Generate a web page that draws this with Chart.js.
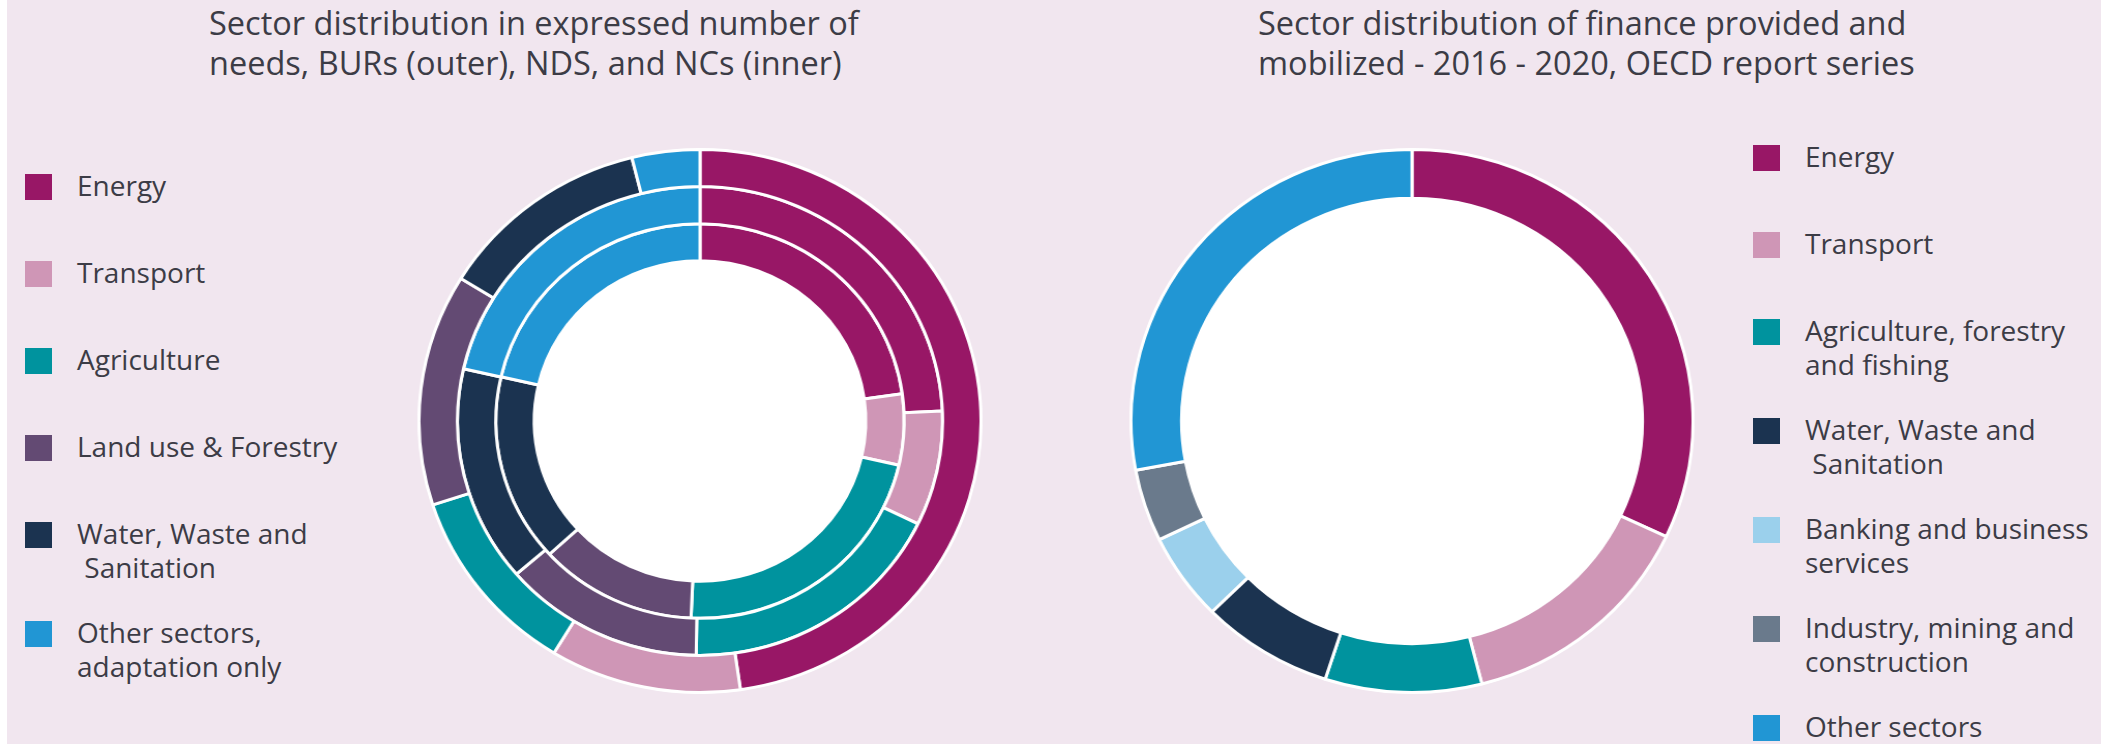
<!DOCTYPE html>
<html>
<head>
<meta charset="utf-8">
<script src="https://cdn.jsdelivr.net/npm/chart.js@4/dist/chart.umd.min.js"></script>
<style>
  html, body { margin: 0; padding: 0; background: #ffffff; }
  body { width: 2111px; height: 744px; position: relative; overflow: hidden; font-family: "Open Sans", sans-serif; color: #3c3c46; }
  .panel { position: absolute; left: 7px; top: 0; width: 2094px; height: 744px; background: #f1e6ef; }
  .title { position: absolute; top: 3px; font-size: 32.5px; line-height: 40px; white-space: nowrap; }
  .ring { position: absolute; width: 546px; height: 546px; transform: scaleX(1.035); transform-origin: 50% 50%; }
  .legend-item { position: absolute; font-size: 28px; line-height: 34px; white-space: pre; }
  .swatch { position: absolute; width: 27px; height: 26px; }
</style>
</head>
<body>
<div class="panel"></div>
<div class="title" style="left:209px">Sector distribution in expressed number of<br>needs, BURs (outer), NDS, and NCs (inner)</div>
<div class="title" style="left:1258px">Sector distribution of finance provided and<br>mobilized - 2016 - 2020, OECD report series</div>

<div class="ring" style="left:427px; top:148px"><canvas id="needs-chart" width="546" height="546"></canvas></div>
<div class="ring" style="left:1139px; top:148px"><canvas id="finance-chart" width="546" height="546"></canvas></div>
<div id="legend-needs"></div>
<div id="legend-finance"></div>

<script>
// ---- data (shares in %, clockwise from 12 o'clock) ----
const needsSectors = ['Energy', 'Transport', 'Agriculture', 'Land use & Forestry', 'Water, Waste and\n Sanitation', 'Other sectors,\nadaptation only'];
const needsColors  = ['#981766', '#cf96b6', '#00939e', '#634a73', '#1b3350', '#2196d4'];
const burValues = [47.7, 11.0, 11.3, 13.8, 12.3, 3.9];   // outer ring
const ndsValues = [24.3, 7.9, 18.0, 13.4, 14.9, 21.4];   // middle ring
const ncValues  = [22.8, 5.8, 22.1, 12.5, 15.4, 21.4];   // inner ring

const financeSectors = ['Energy', 'Transport', 'Agriculture, forestry\nand fishing', 'Water, Waste and\n Sanitation', 'Banking and business\nservices', 'Industry, mining and\nconstruction', 'Other sectors'];
const financeColors  = ['#981766', '#cf96b6', '#00939e', '#1b3350', '#9bd0ec', '#6a7a8c', '#2196d4'];
const financeValues  = [32.0, 14.0, 9.0, 7.6, 5.2, 4.3, 27.9];

// white disc behind the rings (hole + gaps are white in the original)
const whiteDisc = {
  id: 'whiteDisc',
  beforeDatasetsDraw(chart) {
    const arc = chart.getDatasetMeta(0).data[0];
    if (!arc) return;
    const { ctx } = chart;
    ctx.save();
    ctx.beginPath();
    ctx.arc(arc.x, arc.y, arc.outerRadius + 1, 0, Math.PI * 2);
    ctx.fillStyle = '#ffffff';
    ctx.fill();
    ctx.restore();
  }
};

function ringDataset(label, values, colors) {
  return {
    label,
    data: values,
    backgroundColor: colors,
    borderColor: '#ffffff',
    borderWidth: 3,
  };
}

const baseOptions = (cutout) => ({
  responsive: false,
  animation: false,
  cutout,
  layout: { padding: 0 },
  plugins: { legend: { display: false }, tooltip: { enabled: false } },
});

new Chart(document.getElementById('needs-chart'), {
  type: 'doughnut',
  data: {
    labels: needsSectors.map(s => s.replace('\n', ' ')),
    datasets: [
      ringDataset('BURs', burValues, needsColors),
      ringDataset('NDS', ndsValues, needsColors),
      ringDataset('NCs', ncValues, needsColors),
    ]
  },
  options: baseOptions('59%'),
  plugins: [whiteDisc]
});

new Chart(document.getElementById('finance-chart'), {
  type: 'doughnut',
  data: {
    labels: financeSectors.map(s => s.replace('\n', ' ')),
    datasets: [ringDataset('Finance', financeValues, financeColors)]
  },
  options: baseOptions('82%'),
  plugins: [whiteDisc]
});

// ---- html legends ----
function buildLegend(el, labels, colors, swatchX, textX, firstY) {
  let y = firstY;
  labels.forEach((label, i) => {
    const sw = document.createElement('div');
    sw.className = 'swatch';
    sw.style.left = swatchX + 'px';
    sw.style.top = (y - 13) + 'px';
    sw.style.background = colors[i];
    el.appendChild(sw);

    const tx = document.createElement('div');
    tx.className = 'legend-item';
    tx.style.left = textX + 'px';
    tx.style.top = (y - 19) + 'px';
    tx.textContent = label;
    el.appendChild(tx);

    y += label.includes('\n') ? 99 : 87;
  });
}

buildLegend(document.getElementById('legend-needs'), needsSectors, needsColors, 25, 77, 187);
buildLegend(document.getElementById('legend-finance'), financeSectors, financeColors, 1753, 1805, 158);
</script>
</body>
</html>
